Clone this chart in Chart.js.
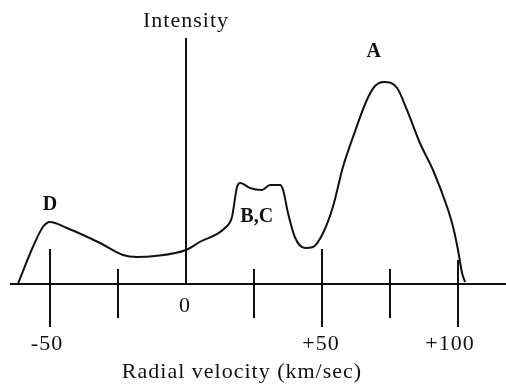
<!DOCTYPE html>
<html>
<head>
<meta charset="utf-8">
<script src="https://cdn.jsdelivr.net/npm/chart.js@4"></script>
<style>
body { margin: 0; background: #fff; }
#wrap { width: 506px; height: 387px; }
</style>
</head>
<body>
<div id="wrap"><canvas id="chart"></canvas></div>
<script>
// radial velocity (km/sec) and intensity
let velocity = [-61.8, -56.3, -52.6, -50, -43.8, -31.6, -23.2, -18, -11.4, 0, 5, 14.3, 16.9, 18.75, 19.9, 23.5, 27.9, 30.9, 34.6, 35.7, 37.5, 40, 43.75, 46.7, 50.4, 54, 57.7, 61.4, 66.5, 69.5, 72.8, 77.6, 81.25, 86, 90.8, 96, 98.2, 100, 101.5, 102.6];
let intensity = [0, 37, 57, 62, 56, 41, 29, 27, 28, 34, 42, 56, 67, 97, 101, 96, 94, 99, 99, 94, 71, 47, 36, 37, 51, 77, 117, 147, 184, 198, 202, 196, 174, 141, 114, 77, 57, 34, 11, 2];

let tickValues = [-50, -25, 25, 50, 75, 100];
let tickLabels = ["-50", "0", "+50", "+100"];
let tickLabelValues = [-50, 0, 50, 100];

let peakNames = ["D", "B,C", "A"];
let peakVelocity = [-50, 26, 69];

let ink = "#111";
let serif = "'Liberation Serif', 'DejaVu Serif', serif";

let points = [];
for (let i = 0; i < velocity.length; i++) {
  points.push({ x: velocity[i], y: intensity[i] });
}

// axes, ticks and text drawn with the chart's own scales
let axesPlugin = {
  id: "axes",
  afterDraw: function (c) {
    let ctx = c.ctx;
    let xs = c.scales.x;
    let ys = c.scales.y;
    let y0 = ys.getPixelForValue(0);
    ctx.save();
    ctx.strokeStyle = ink;
    ctx.lineWidth = 2;

    ctx.beginPath();
    ctx.moveTo(xs.getPixelForValue(-64.7), y0);
    ctx.lineTo(c.chartArea.right, y0);
    ctx.stroke();

    ctx.beginPath();
    ctx.moveTo(xs.getPixelForValue(0), ys.getPixelForValue(246));
    ctx.lineTo(xs.getPixelForValue(0), y0);
    ctx.stroke();

    tickValues.forEach(function (v) {
      let big = (v % 50 === 0);
      let top = big ? 35 : 15;
      if (v === 100) top = 24;
      let bottom = big ? -43 : -34;
      let px = xs.getPixelForValue(v);
      ctx.beginPath();
      ctx.moveTo(px, ys.getPixelForValue(top));
      ctx.lineTo(px, ys.getPixelForValue(bottom));
      ctx.stroke();
    });

    ctx.fillStyle = ink;
    ctx.textAlign = "center";
    ctx.textBaseline = "middle";
    ctx.font = "22px " + serif;
    ctx.letterSpacing = "1px";
    tickLabels.forEach(function (t, i) {
      let v = tickLabelValues[i];
      let yy = v === 0 ? -22 : -60;
      let dx = v === 100 ? -8 : (v < 0 ? -3 : -1);
      ctx.fillText(t, xs.getPixelForValue(v) + dx, ys.getPixelForValue(yy));
    });

    ctx.fillText("Radial velocity (km/sec)", 242, ys.getPixelForValue(-88));
    ctx.fillText("Intensity", xs.getPixelForValue(0), 21);

    ctx.font = "bold 20px " + serif;
    ctx.letterSpacing = "0px";
    let peakY = [79, 67, 232];
    peakNames.forEach(function (n, i) {
      ctx.fillText(n, xs.getPixelForValue(peakVelocity[i]), ys.getPixelForValue(peakY[i]));
    });
    ctx.restore();
  }
};

let chart = new Chart(document.getElementById("chart"), {
  type: "line",
  data: {
    datasets: [{
      data: points,
      borderColor: ink,
      borderWidth: 2,
      pointRadius: 0,
      cubicInterpolationMode: "monotone",
      fill: false
    }]
  },
  options: {
    responsive: true,
    maintainAspectRatio: false,
    animation: false,
    layout: { padding: 0 },
    plugins: { legend: { display: false }, tooltip: { enabled: false } },
    scales: {
      x: { type: "linear", min: -68.38, max: 117.65, display: false },
      y: { min: -103, max: 284, display: false }
    }
  },
  plugins: [axesPlugin]
});
</script>
</body>
</html>
